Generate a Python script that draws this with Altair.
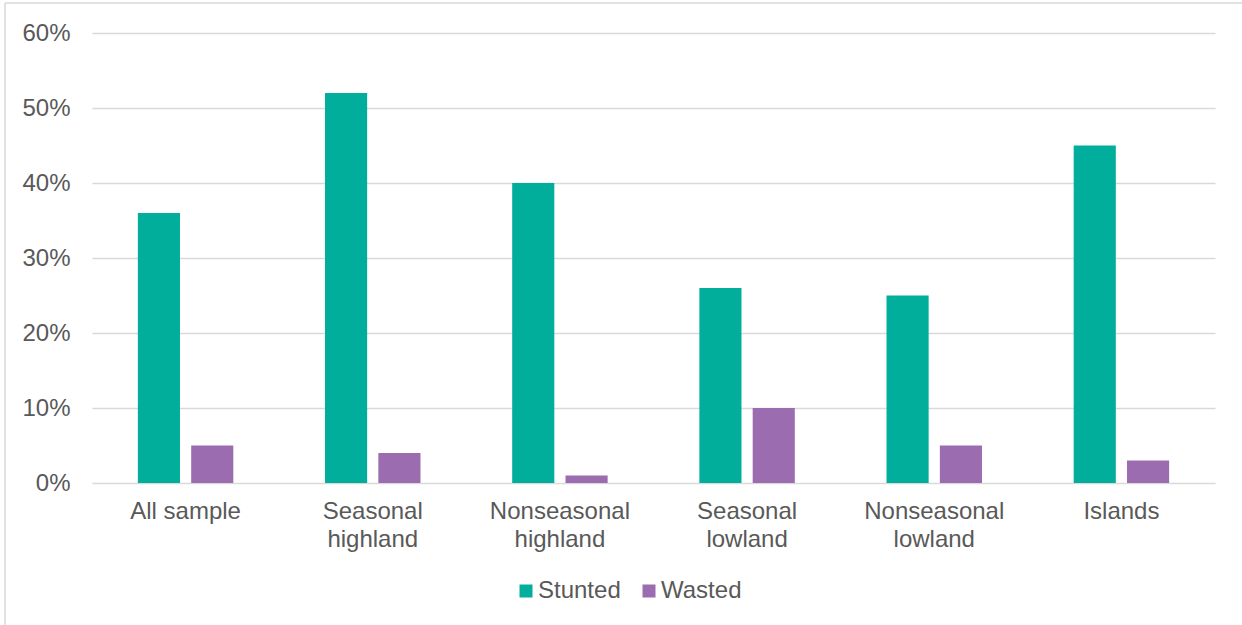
import altair as alt
import pandas as pd

categories = ["All sample", "Seasonal highland", "Nonseasonal highland",
              "Seasonal lowland", "Nonseasonal lowland", "Islands"]
stunted = [0.36, 0.52, 0.40, 0.26, 0.25, 0.45]
wasted = [0.05, 0.04, 0.01, 0.10, 0.05, 0.03]
series = ["Stunted", "Wasted"]
colors = ["#00AE9B", "#9B6DB0"]
y_ticks = [0, 0.1, 0.2, 0.3, 0.4, 0.5, 0.6]

rows = []
for c, s, w in zip(categories, stunted, wasted):
    rows.append({"cat": c, "series": "Stunted", "value": s})
    rows.append({"cat": c, "series": "Wasted", "value": w})
df = pd.DataFrame(rows)

FONT = "Liberation Sans"
GRAY = "#595959"
FS = 24

bars = alt.Chart(df).mark_bar().encode(
    x=alt.X("cat:N", sort=categories, title=None,
            scale=alt.Scale(paddingInner=0.49, paddingOuter=0.245),
            axis=alt.Axis(labelAngle=0, domain=False, ticks=False,
                          labelFont=FONT, labelFontSize=FS, labelColor=GRAY,
                          labelPadding=16, labelLineHeight=28,
                          labelExpr="datum.label == 'All sample' ? datum.label : split(datum.label, ' ')")),
    xOffset=alt.XOffset("series:N", sort=series,
                        scale=alt.Scale(paddingInner=0.21, paddingOuter=0)),
    y=alt.Y("value:Q", title=None,
            scale=alt.Scale(domain=[0, 0.6], nice=False),
            axis=alt.Axis(values=y_ticks, format=".0%", domain=False, ticks=False,
                          labelFont=FONT, labelFontSize=FS, labelColor=GRAY,
                          labelPadding=22, gridColor="#D9D9D9", gridWidth=1.5)),
    color=alt.Color("series:N", sort=series,
                    scale=alt.Scale(domain=series, range=colors),
                    legend=alt.Legend(title=None, orient="none", direction="horizontal",
                                      legendX=422, legendY=546,
                                      symbolType="square", symbolSize=169,
                                      symbolStrokeWidth=0, labelFont=FONT,
                                      labelFontSize=FS, labelColor=GRAY,
                                      labelOffset=0, columnPadding=16)),
)

frame = alt.Data(values=[{"a": 1}])
left_border = alt.Chart(frame).mark_rule(color="#D9D9D9", strokeWidth=1.5).encode(
    x=alt.value(-87), y=alt.value(-30), y2=alt.value(600))
top_border = alt.Chart(frame).mark_rule(color="#D9D9D9", strokeWidth=1.5).encode(
    x=alt.value(-87), x2=alt.value(1200), y=alt.value(-30))

chart = alt.layer(bars, left_border, top_border).properties(
    width=1123, height=450,
    autosize=alt.AutoSizeParams(type="none"),
    padding={"left": 92, "top": 33, "right": 27, "bottom": 142},
    background="white",
).configure_view(stroke=None)

chart.save("out.html", embed_options={"renderer": "svg", "actions": False})
